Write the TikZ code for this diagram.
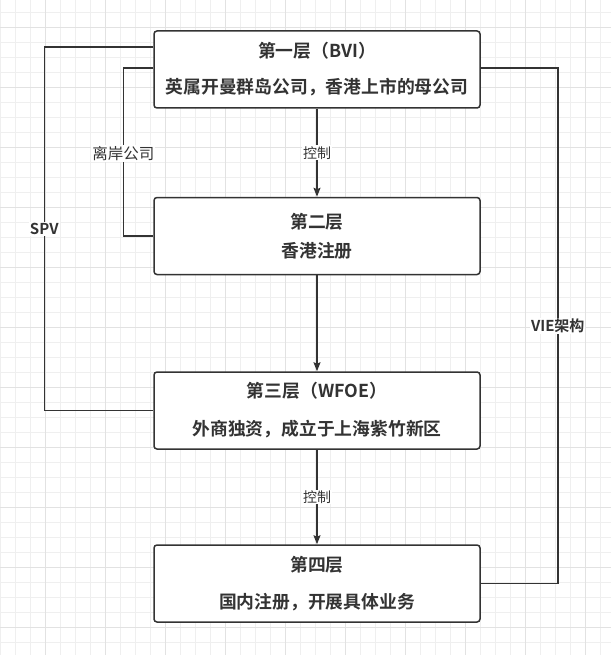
\documentclass[tikz,border=0pt]{standalone}
\usepackage{fontspec}
\setmainfont{Noto Sans CJK SC}[BoldFont={Noto Sans CJK SC Bold}]
\usepackage{xcolor}
\usetikzlibrary{arrows.meta}
\definecolor{inkgray}{HTML}{333333}
\definecolor{gridminor}{HTML}{EFEFEF}
\definecolor{gridmajor}{HTML}{E2E2E2}

\tikzset{
  layer/.style={draw=inkgray, line width=1.5pt, rounded corners=3pt, fill=white,
    minimum width=326pt, minimum height=77pt, align=center, text=inkgray,
    font=\bfseries\fontsize{17.8}{22}\selectfont},
  link/.style={draw=inkgray, line width=1.5pt},
  ctrl/.style={link, -{Stealth[length=9pt,width=7pt,inset=1.5pt]}},
  tag/.style={fill=white, inner sep=1pt, text=inkgray, font=\fontsize{14}{16}\selectfont},
  sidetag/.style={tag, font=\bfseries\fontsize{15}{17}\selectfont},
}

\begin{document}
\begin{tikzpicture}[x=1pt, y=-1pt]
\useasboundingbox (0,0) rectangle (611,655);
\fill[white] (0,0) rectangle (611,655);

% background grid
\foreach \gx in {0,15,...,611} \draw[gridminor, line width=0.8pt] (\gx,0) -- (\gx,655);
\foreach \gy in {12,27,...,655} \draw[gridminor, line width=0.8pt] (0,\gy) -- (611,\gy);
\foreach \gx in {45,105,...,611} \draw[gridmajor, line width=0.8pt] (\gx,0) -- (\gx,655);
\foreach \gy in {27,87,...,655} \draw[gridmajor, line width=0.8pt] (0,\gy) -- (611,\gy);

% layers
\node[layer] (bvi) at (317,69.5) {第一层（BVI）\\[14pt]英属开曼群岛公司，香港上市的母公司};
\node[layer] (hk) at (317,236) {第二层\\[7pt]香港注册};
\node[layer] (wfoe) at (317,410.5) {第三层（WFOE）\\[16pt]外商独资，成立于上海紫竹新区};
\node[layer] (opco) at (317,583.5) {第四层\\[15pt]国内注册，开展具体业务};

% control chain
\draw[ctrl] (bvi.south) -- (hk.north) node[tag, midway] {控制};
\draw[ctrl] (hk.south) -- (wfoe.north);
\draw[ctrl] (wfoe.south) -- (opco.north) node[tag, midway] {控制};

% side links
\draw[link] ([yshift=22.5pt]bvi.west) -- ++(-109,0) |- (wfoe.west) node[sidetag, pos=0.25] {SPV};
\draw[link] ([yshift=1.5pt]bvi.west) -- ++(-30,0) |- (hk.west) node[tag, pos=0.255, font=\fontsize{15.5}{17}\selectfont] {离岸公司};
\draw[link] ([yshift=1.5pt]bvi.east) -- ++(77,0) |- (opco.east) node[sidetag, pos=0.25] {VIE架构};
\end{tikzpicture}
\end{document}
